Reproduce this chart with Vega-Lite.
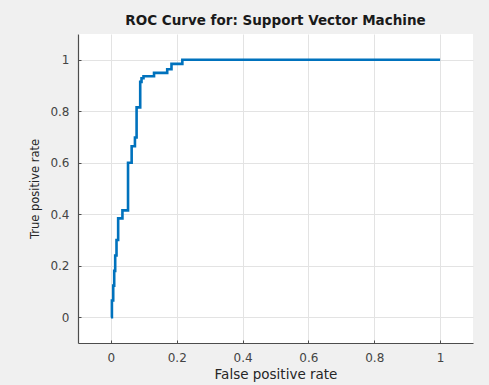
{
  "$schema": "https://vega.github.io/schema/vega-lite/v6.json",
  "width": 395,
  "height": 309,
  "autosize": {"type": "none"},
  "padding": {"left": 78, "top": 34, "right": 16, "bottom": 42},
  "background": "#f0f0f0",
  "view": {"fill": "white", "stroke": null},
  "title": {
    "text": "ROC Curve for: Support Vector Machine",
    "font": "DejaVu Sans",
    "fontSize": 13.5,
    "fontWeight": "bold",
    "color": "#1a1a1a",
    "anchor": "middle",
    "offset": 7
  },
  "data": {
    "values": [
      {"fpr": 0.0, "tpr": 0.0},
      {"fpr": 0.003, "tpr": 0.065},
      {"fpr": 0.007, "tpr": 0.123},
      {"fpr": 0.010, "tpr": 0.18},
      {"fpr": 0.013, "tpr": 0.24},
      {"fpr": 0.017, "tpr": 0.30},
      {"fpr": 0.022, "tpr": 0.384},
      {"fpr": 0.035, "tpr": 0.415},
      {"fpr": 0.052, "tpr": 0.60},
      {"fpr": 0.063, "tpr": 0.664},
      {"fpr": 0.073, "tpr": 0.698},
      {"fpr": 0.078, "tpr": 0.815},
      {"fpr": 0.089, "tpr": 0.914},
      {"fpr": 0.093, "tpr": 0.928},
      {"fpr": 0.099, "tpr": 0.936},
      {"fpr": 0.131, "tpr": 0.949},
      {"fpr": 0.171, "tpr": 0.963},
      {"fpr": 0.184, "tpr": 0.984},
      {"fpr": 0.217, "tpr": 1.0},
      {"fpr": 1.0, "tpr": 1.0}
    ]
  },
  "mark": {"type": "line", "interpolate": "step-after", "color": "#0072BD", "strokeWidth": 2.6, "clip": true},
  "encoding": {
    "x": {
      "field": "fpr",
      "type": "quantitative",
      "scale": {"domain": [-0.1, 1.1], "nice": false, "zero": false},
      "axis": {
        "title": "False positive rate",
        "values": [0, 0.2, 0.4, 0.6, 0.8, 1],
        "format": "~g",
        "titlePadding": 4
      }
    },
    "y": {
      "field": "tpr",
      "type": "quantitative",
      "scale": {"domain": [-0.1, 1.1], "nice": false, "zero": false},
      "axis": {
        "title": "True positive rate",
        "titleFontSize": 11.5,
        "values": [0, 0.2, 0.4, 0.6, 0.8, 1],
        "format": "~g",
        "titlePadding": 9
      }
    },
    "order": {"field": "fpr"}
  },
  "config": {
    "axis": {
      "domainColor": "#4d4d4d",
      "domainWidth": 1.2,
      "gridColor": "#e3e3e3",
      "gridWidth": 1,
      "tickColor": "#4d4d4d",
      "tickSize": -3,
      "labelPadding": 12,
      "labelFont": "DejaVu Sans",
      "labelFontSize": 12,
      "labelColor": "#444444",
      "titleFont": "DejaVu Sans",
      "titleFontSize": 13.5,
      "titleFontWeight": "normal",
      "titleColor": "#262626"
    }
  }
}
